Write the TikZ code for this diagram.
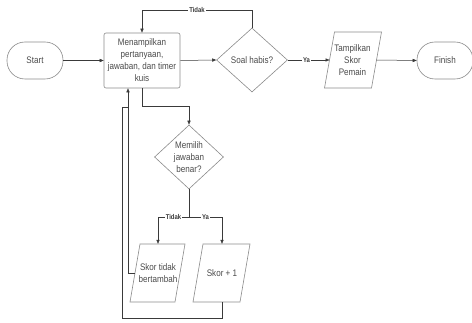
\documentclass[tikz,border=0pt]{standalone}
\usepackage{fontspec}
\setmainfont{Liberation Sans}[FakeStretch=0.85]
\usetikzlibrary{arrows.meta,shapes.geometric,calc}
\definecolor{ln}{HTML}{3A3A3A}
\definecolor{bd}{HTML}{8A8A8A}
\definecolor{tx}{HTML}{4A4A4A}
\begin{document}
\begin{tikzpicture}[x=1pt,y=-1pt,
  txt/.style={font=\fontsize{9.5}{12}\selectfont, text=tx, align=center, inner sep=0pt},
  term/.style={txt, draw=bd, line width=0.6pt, rounded corners=18pt, minimum width=56pt, minimum height=37pt},
  proc/.style={txt, draw=bd, line width=0.6pt, rounded corners=2pt, minimum width=76pt, minimum height=55pt},
  dec/.style={txt, draw=bd, line width=0.6pt, diamond, aspect=1.1},
  iobox/.style={txt, minimum width=40pt},
  para/.style={draw=bd, line width=0.6pt},
  conn/.style={draw=ln, line width=0.5pt},
  arr/.style={conn, -{Triangle[length=4pt,width=3.2pt]}},
  lbl/.style={font=\fontsize{7}{8}\selectfont\bfseries, text=ln, fill=white, inner sep=1pt}
]
\useasboundingbox (0,0) rectangle (472,323);
% nodes
\node[term] (st) at (35,60.5) {Start};
\node[proc] (box) at (142,60.5) {Menampilkan\\pertanyaan,\\jawaban, dan timer\\kuis};
\node[dec, minimum width=71pt, minimum height=64pt, inner sep=0pt] (d1) at (252,60) {Soal habis?};
\node[iobox, minimum height=56pt] (p1) at (352.5,60) {Tampilkan\\Skor\\Pemain};
\node[term] (fin) at (445,60.5) {Finish};
\node[dec, minimum width=69pt, minimum height=64pt, inner sep=0pt] (d2) at (189,157) {Memilih\\jawaban\\benar?};
\node[iobox, minimum height=58pt] (p2) at (158,273) {Skor tidak\\bertambah};
\node[iobox, minimum height=58pt] (p3) at (222,273) {Skor + 1};
% parallelograms
\draw[para] (p1.center) ++(-28,28) -- ++(10,-56) -- ++(47,0) -- ++(-10,56) -- cycle;
\draw[para] (p2.center) ++(-28,29) -- ++(10,-58) -- ++(45,0) -- ++(-10,58) -- cycle;
\draw[para] (p3.center) ++(-29,29) -- ++(10,-58) -- ++(47,0) -- ++(-10,58) -- cycle;
\coordinate (p1l) at ($(p1.center)+(-23,0)$);
\coordinate (p1r) at ($(p1.center)+(24,0)$);
\coordinate (p2l) at ($(p2.center)+(-23,0)$);
\coordinate (tloop) at (252,10);
\coordinate (bj) at ($(box.south)+(-14,0)$);
% connectors
\draw[arr] (st.east) -- (box.west);
\draw[arr] (box.east) -- (d1.west);
\draw[arr] (d1.east) -- node[lbl, pos=0.45] {Ya} (p1l);
\draw[arr] (p1r) -- (fin.west);
\draw[arr] (d1.north) -- (tloop) -- node[lbl, pos=0.5] {Tidak} (tloop -| box.north) -- (box.north);
\draw[arr] (box.south) -- ++(0,18) -| (d2.north);
\draw[conn] (d2.south) -- ++(0,28) coordinate (br);
\draw[arr] (br) -- node[lbl, pos=0.5] {Tidak} (br -| p2.north) -- (p2.north);
\draw[arr] (br) -- node[lbl, pos=0.5] {Ya} (br -| p3.north) -- (p3.north);
\draw[arr] (p2l) -- (p2l -| bj) -- (bj);
\draw[conn] (p3.south) -- ++(0,16) -| (122,107) -- (128,107);
\end{tikzpicture}
\end{document}
